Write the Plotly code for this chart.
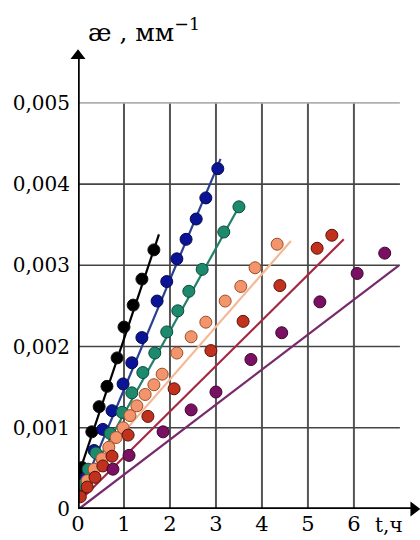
import plotly.graph_objects as go

# Curvature vs time for six runs: measured points and fitted lines
t_black = [0.04, 0.09, 0.30, 0.46, 0.63, 0.85, 1.00, 1.20, 1.39, 1.65]
k_black = [0.42, 0.51, 0.95, 1.26, 1.51, 1.86, 2.24, 2.51, 2.83, 3.19]

t_blue = [0.08, 0.17, 0.35, 0.54, 0.74, 0.98, 1.17, 1.39, 1.72, 1.93, 2.15, 2.35, 2.57, 2.78, 3.04]
k_blue = [0.25, 0.39, 0.72, 0.98, 1.21, 1.54, 1.80, 2.11, 2.56, 2.80, 3.08, 3.32, 3.57, 3.83, 4.19]

t_teal = [0.10, 0.22, 0.39, 0.70, 0.96, 1.17, 1.41, 1.67, 1.93, 2.17, 2.41, 2.70, 3.17, 3.50]
k_teal = [0.30, 0.49, 0.69, 0.93, 1.19, 1.43, 1.68, 1.92, 2.18, 2.44, 2.68, 2.95, 3.41, 3.72]

t_salmon = [0.20, 0.35, 0.52, 0.67, 0.83, 0.98, 1.13, 1.28, 1.46, 1.65, 1.83, 2.15, 2.46, 2.78, 3.20, 3.54, 3.85, 4.33]
k_salmon = [0.35, 0.49, 0.62, 0.76, 0.88, 1.00, 1.15, 1.27, 1.41, 1.53, 1.66, 1.92, 2.12, 2.30, 2.56, 2.74, 2.97, 3.26]

t_red = [0.05, 0.20, 0.37, 0.54, 0.74, 1.09, 1.52, 2.09, 2.89, 3.59, 4.39, 5.20, 5.52]
k_red = [0.15, 0.27, 0.39, 0.53, 0.65, 0.91, 1.14, 1.48, 1.95, 2.31, 2.75, 3.21, 3.37]

t_purple = [0.76, 1.11, 1.85, 2.46, 3.00, 3.76, 4.43, 5.26, 6.07, 6.67]
k_purple = [0.49, 0.66, 0.95, 1.22, 1.44, 1.84, 2.17, 2.55, 2.90, 3.15]

# fitted straight lines: [start, end]
fit_t = {
    "black": [0.00, 1.76],
    "blue": [0.00, 3.10],
    "teal": [0.00, 3.50],
    "salmon": [0.00, 4.63],
    "red": [0.00, 5.78],
    "purple": [0.02, 6.98],
}
fit_k = {
    "black": [0.40, 3.38],
    "blue": [0.12, 4.31],
    "teal": [0.15, 3.72],
    "salmon": [0.30, 3.30],
    "red": [0.08, 3.32],
    "purple": [0.00, 3.00],
}

x_ticks = [0, 1, 2, 3, 4, 5, 6]
y_ticks = [0, 0.001, 0.002, 0.003, 0.004, 0.005]
y_ticktext = ["0", "0,001", "0,002", "0,003", "0,004", "0,005"]
grid_t = [1, 2, 3, 4, 5, 6]
grid_k = [0.001, 0.002, 0.003, 0.004, 0.005]
t_max, k_max = 7.0, 0.005
t_arrow, k_arrow = 7.3, 0.00558

series = [
    ("black", t_black, k_black, "#000000", "#111111", "#000000"),
    ("blue", t_blue, k_blue, "#0c1496", "#06084f", "#2a3f90"),
    ("teal", t_teal, k_teal, "#1d8a6e", "#0b4a3a", "#22806a"),
    ("salmon", t_salmon, k_salmon, "#f2956c", "#9c4e2a", "#f5b894"),
    ("red", t_red, k_red, "#c0321e", "#5a1208", "#a42844"),
    ("purple", t_purple, k_purple, "#7a1062", "#3c0530", "#762a6c"),
]

serif = "DejaVu Serif"

fig = go.Figure()
for name, t, k, fill, edge, line_col in series:
    fig.add_trace(go.Scatter(
        x=fit_t[name], y=[v / 1000 for v in fit_k[name]], mode="lines",
        line=dict(color=line_col, width=2.2), hoverinfo="skip", showlegend=False))
for name, t, k, fill, edge, line_col in series:
    fig.add_trace(go.Scatter(
        x=t, y=[v / 1000 for v in k], mode="markers",
        marker=dict(size=12, color=fill, line=dict(color=edge, width=1)),
        name=name, showlegend=False))

# axis arrowheads
fig.add_trace(go.Scatter(
    x=[0, t_arrow], y=[k_arrow, 0], mode="markers", cliponaxis=False,
    marker=dict(symbol=["triangle-up", "triangle-right"], size=13, color="black"),
    hoverinfo="skip", showlegend=False))

shapes = []
for g in grid_t:
    shapes.append(dict(type="line", xref="x", yref="y", x0=g, x1=g, y0=0, y1=k_max,
                       line=dict(color="#555555", width=2), layer="below"))
for g in grid_k:
    col = "#b0b0b0" if g == k_max else "#444444"
    shapes.append(dict(type="line", xref="x", yref="y", x0=0, x1=t_max, y0=g, y1=g,
                       line=dict(color=col, width=1.6), layer="below"))
# axes
shapes.append(dict(type="line", xref="x", yref="y", x0=0, x1=0, y0=0, y1=k_arrow,
                   line=dict(color="black", width=3.5)))
shapes.append(dict(type="line", xref="x", yref="y", x0=0, x1=t_arrow, y0=0, y1=0,
                   line=dict(color="black", width=3.5)))

annotations = [
    dict(x=(86 - 78) / 338, y=1 + (46 - 30) / 466, xref="paper", yref="paper",
         text="æ , мм<sup>−1</sup>", showarrow=False, xanchor="left", yanchor="middle",
         font=dict(family=serif, size=25, color="black")),
    dict(x=6.42, y=0, xref="x", yref="y", text="t,ч", showarrow=False, xanchor="left",
         yanchor="top", yshift=-2, font=dict(family=serif, size=20, color="black")),
]

fig.update_layout(
    width=420, height=540,
    margin=dict(l=78, r=4, t=46, b=28),
    paper_bgcolor="white", plot_bgcolor="white",
    font=dict(family=serif),
    shapes=shapes, annotations=annotations,
    xaxis=dict(range=[0, 7.35], tickvals=x_ticks, ticktext=[str(v) for v in x_ticks],
               showgrid=False, zeroline=False, showline=False, ticks="",
               tickfont=dict(family=serif, size=21, color="black"), ticklabelstandoff=0),
    yaxis=dict(range=[0, 0.0057], tickvals=y_ticks, ticktext=y_ticktext,
               showgrid=False, zeroline=False, showline=False, ticks="",
               tickfont=dict(family=serif, size=20, color="black"), ticklabelstandoff=7),
)

fig.write_html("out.html")
